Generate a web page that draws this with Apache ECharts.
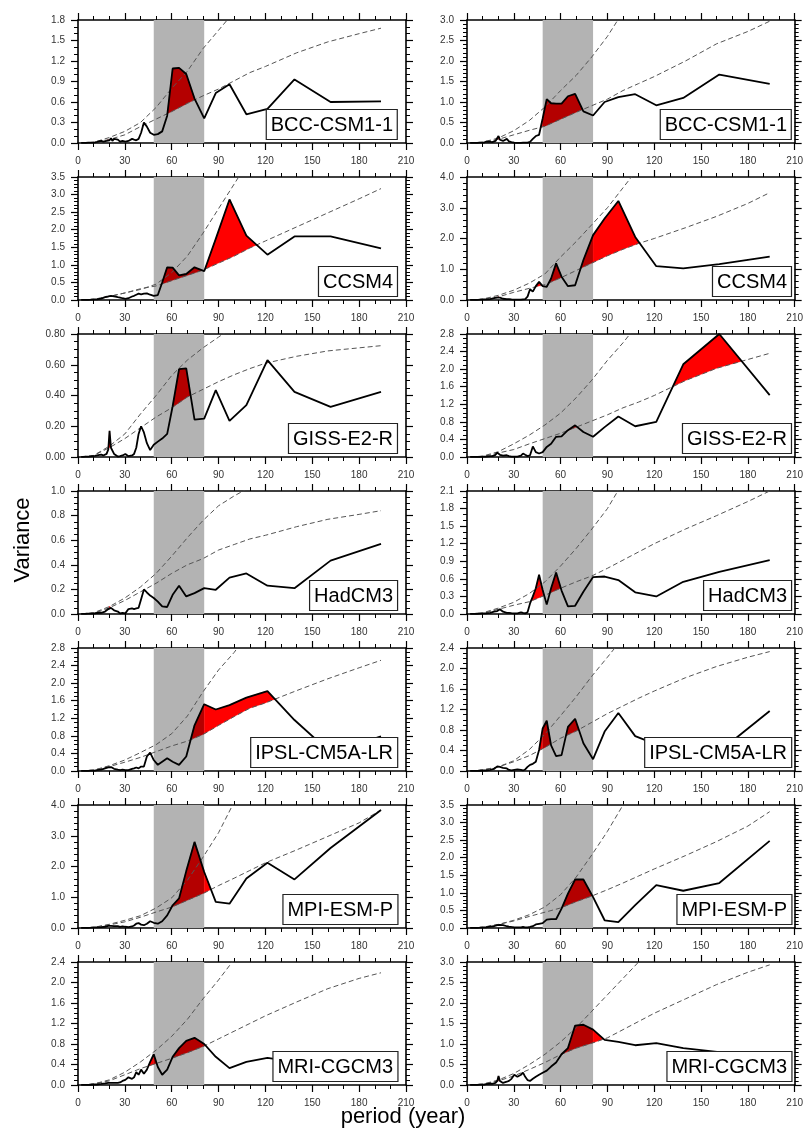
<!DOCTYPE html>
<html>
<head>
<meta charset="utf-8">
<script src="https://cdn.jsdelivr.net/npm/echarts@6/dist/echarts.min.js"></script>
<style>
  html, body { margin: 0; padding: 0; background: #fff; }
  #chart { width: 806px; height: 1138px; }
</style>
</head>
<body>
<div id="chart"></div>
<script>
// spectral periods (years) of the black curves
const periods = [194, 161.7, 138.6, 121.3, 107.8, 97, 88.2, 80.8, 74.6, 69.3, 64.7, 60.6, 57.1, 53.9, 51.1, 48.5,
  46.2, 44.1, 42.2, 40.4, 38.8, 37.3, 35.9, 34.6, 32.3, 30.3, 28.5, 26.9, 25.5, 24.3, 23.1, 22, 21.1, 20.2, 19.4,
  18.3, 17.3, 16.2, 14.9, 13.9, 12.1, 10.8, 9.7, 8.1, 6.5, 4.9, 3.2, 2];
// periods of the dashed reference curves
const dashPeriods = [2, 10, 20, 30, 40, 50, 60, 70, 80, 90, 100, 110, 120, 140, 160, 180, 194];

const bandStart = 48.5;
const bandEnd = 80.8;

const models = ['BCC-CSM1-1', 'CCSM4', 'GISS-E2-R', 'HadCM3', 'IPSL-CM5A-LR', 'MPI-ESM-P', 'MRI-CGCM3'];
const yMaxL = [1.8, 3.5, 0.8, 1.0, 2.8, 4.0, 2.4];
const yStepL = [0.3, 0.5, 0.2, 0.2, 0.4, 1.0, 0.4];
const yMaxR = [3.0, 4.0, 2.8, 2.1, 2.4, 3.5, 3.0];
const yStepR = [0.5, 1.0, 0.4, 0.3, 0.4, 0.5, 0.5];
const yDecL = [1, 1, 2, 1, 1, 1, 1];
const yDecR = [1, 1, 1, 1, 1, 1, 1];

// ---- left column ----
const bccL = [0.61, 0.60, 0.93, 0.50, 0.42, 0.86, 0.73, 0.36, 0.65, 1.01, 1.10, 1.09, 0.40, 0.17, 0.13, 0.12,
  0.15, 0.24, 0.30, 0.15, 0.06, 0.04, 0.05, 0.06, 0.03, 0.02, 0.03, 0.02, 0.05, 0.04, 0.06, 0.03, 0.07, 0.04, 0.06,
  0.03, 0.04, 0.02, 0.03, 0.02, 0.015, 0.01, 0.01, 0.005, 0.005, 0.003, 0.002, 0.001];
const bccLLo = [0, 0.01, 0.05, 0.12, 0.24, 0.35, 0.46, 0.58, 0.69, 0.79, 0.91, 1.03, 1.12, 1.32, 1.48, 1.60, 1.68];
const bccLHi = [0, 0.01, 0.08, 0.17, 0.30, 0.52, 0.80, 1.05, 1.38, 1.65, 1.92, 2.2];

const ccsmL = [1.47, 1.81, 1.81, 1.29, 1.83, 2.86, 1.74, 0.82, 0.93, 0.74, 0.70, 0.92, 0.93, 0.50, 0.14, 0.12,
  0.15, 0.19, 0.18, 0.16, 0.18, 0.15, 0.12, 0.10, 0.05, 0.03, 0.05, 0.07, 0.08, 0.06, 0.10, 0.08, 0.12, 0.07, 0.10,
  0.06, 0.08, 0.04, 0.04, 0.03, 0.02, 0.02, 0.01, 0.01, 0.005, 0.005, 0.003, 0.001];
const ccsmLLo = [0, 0.02, 0.1, 0.2, 0.32, 0.4, 0.55, 0.7, 0.85, 1.05, 1.25, 1.48, 1.68, 2.08, 2.48, 2.88, 3.17];
const ccsmLHi = [0, 0.02, 0.1, 0.2, 0.3, 0.45, 0.78, 1.25, 1.9, 2.6, 3.3, 4.0];

const gissL = [0.424, 0.326, 0.424, 0.63, 0.337, 0.235, 0.435, 0.25, 0.243, 0.576, 0.572, 0.33, 0.15, 0.12, 0.10, 0.08,
  0.045, 0.09, 0.16, 0.20, 0.15, 0.06, 0.02, 0.01, 0.005, 0.02, 0.01, 0.005, 0.003, 0.01, 0.02, 0.03, 0.06, 0.17, 0.05,
  0.02, 0.03, 0.01, 0.015, 0.01, 0.01, 0.008, 0.006, 0.004, 0.003, 0.002, 0.001, 0.001];
const gissLLo = [0, 0.01, 0.06, 0.12, 0.19, 0.26, 0.32, 0.39, 0.44, 0.49, 0.535, 0.575, 0.61, 0.655, 0.69, 0.71, 0.724];
const gissLHi = [0, 0.01, 0.07, 0.15, 0.28, 0.40, 0.53, 0.63, 0.71, 0.78, 0.85];

const hadL = [0.57, 0.434, 0.21, 0.23, 0.33, 0.296, 0.197, 0.21, 0.17, 0.143, 0.23, 0.156, 0.057, 0.062, 0.10, 0.13,
  0.15, 0.175, 0.20, 0.12, 0.05, 0.045, 0.04, 0.045, 0.04, 0.005, 0.01, 0.005, 0.02, 0.01, 0.03, 0.02, 0.05, 0.065, 0.04,
  0.03, 0.02, 0.025, 0.01, 0.012, 0.008, 0.006, 0.005, 0.004, 0.003, 0.002, 0.001, 0.001];
const hadLLo = [0, 0.005, 0.05, 0.11, 0.18, 0.25, 0.33, 0.40, 0.45, 0.52, 0.565, 0.61, 0.64, 0.71, 0.77, 0.81, 0.84];
const hadLHi = [0, 0.01, 0.06, 0.13, 0.22, 0.33, 0.47, 0.62, 0.76, 0.88, 0.96, 1.03];

const ipslL = [0.79, 0.42, 1.16, 1.82, 1.67, 1.50, 1.40, 1.52, 1.04, 0.33, 0.14, 0.21, 0.29, 0.21, 0.14, 0.25,
  0.42, 0.33, 0.10, 0.10, 0.06, 0.08, 0.06, 0.05, 0.02, 0.02, 0.03, 0.02, 0.03, 0.04, 0.05, 0.08, 0.09, 0.07, 0.08,
  0.05, 0.06, 0.04, 0.03, 0.03, 0.02, 0.01, 0.01, 0.008, 0.005, 0.003, 0.002, 0.001];
const ipslLLo = [0, 0.02, 0.1, 0.2, 0.31, 0.44, 0.57, 0.68, 0.83, 1.04, 1.24, 1.43, 1.55, 1.83, 2.1, 2.35, 2.52];
const ipslLHi = [0, 0.02, 0.12, 0.25, 0.42, 0.6, 0.85, 1.25, 1.8, 2.3, 2.7, 3.2];

const mpiL = [3.84, 2.60, 1.58, 2.12, 1.61, 0.79, 0.85, 1.82, 2.80, 1.85, 0.96, 0.74, 0.41, 0.22, 0.14, 0.17,
  0.22, 0.14, 0.09, 0.11, 0.16, 0.14, 0.08, 0.05, 0.03, 0.04, 0.05, 0.04, 0.06, 0.05, 0.06, 0.05, 0.07, 0.06, 0.07,
  0.05, 0.04, 0.04, 0.03, 0.03, 0.02, 0.02, 0.01, 0.01, 0.005, 0.004, 0.002, 0.001];
const mpiLLo = [0, 0.02, 0.1, 0.2, 0.35, 0.52, 0.68, 0.9, 1.12, 1.38, 1.62, 1.87, 2.12, 2.54, 2.98, 3.42, 3.84];
const mpiLHi = [0, 0.02, 0.12, 0.25, 0.4, 0.65, 0.98, 1.55, 2.3, 3.1, 4.1];

const mriL = [0.55, 0.60, 0.45, 0.53, 0.45, 0.33, 0.55, 0.80, 0.92, 0.86, 0.72, 0.55, 0.30, 0.20, 0.35, 0.60,
  0.45, 0.30, 0.22, 0.30, 0.20, 0.25, 0.15, 0.12, 0.15, 0.10, 0.08, 0.05, 0.04, 0.05, 0.04, 0.03, 0.04, 0.05, 0.04,
  0.03, 0.03, 0.02, 0.02, 0.02, 0.01, 0.01, 0.01, 0.005, 0.004, 0.003, 0.002, 0.001];
const mriLLo = [0, 0.02, 0.08, 0.2, 0.32, 0.42, 0.52, 0.63, 0.75, 0.9, 1.05, 1.2, 1.35, 1.62, 1.88, 2.08, 2.19];
const mriLHi = [0, 0.02, 0.1, 0.25, 0.45, 0.68, 0.95, 1.28, 1.68, 2.05, 2.45];

// ---- right column ----
const bccR = [1.44, 1.67, 1.10, 0.92, 1.19, 1.12, 1.00, 0.67, 0.77, 1.20, 1.14, 0.96, 0.96, 0.97, 1.07, 0.60,
  0.20, 0.17, 0.10, 0.03, 0.01, 0.01, 0.01, 0.005, 0.005, 0.01, 0.02, 0.04, 0.10, 0.08, 0.05, 0.04, 0.08, 0.17, 0.12,
  0.05, 0.03, 0.02, 0.03, 0.02, 0.03, 0.01, 0.01, 0.01, 0.005, 0.005, 0.002, 0.001];
const bccRLo = [0, 0.01, 0.09, 0.2, 0.31, 0.41, 0.58, 0.75, 0.91, 1.07, 1.28, 1.45, 1.62, 2.0, 2.42, 2.72, 2.97];
const bccRHi = [0, 0.02, 0.12, 0.3, 0.55, 0.88, 1.28, 1.65, 2.1, 2.6, 3.2];

const ccsmR = [1.41, 1.17, 1.03, 1.10, 2.05, 3.22, 2.65, 2.11, 1.30, 0.48, 0.45, 0.76, 1.19, 0.70, 0.43, 0.45,
  0.59, 0.45, 0.27, 0.35, 0.11, 0.03, 0.02, 0.01, 0.01, 0.01, 0.02, 0.03, 0.03, 0.04, 0.04, 0.05, 0.08, 0.12, 0.08,
  0.05, 0.06, 0.04, 0.03, 0.05, 0.02, 0.02, 0.01, 0.01, 0.005, 0.005, 0.003, 0.001];
const ccsmRLo = [0, 0.02, 0.1, 0.25, 0.38, 0.5, 0.72, 0.96, 1.2, 1.44, 1.65, 1.84, 2.0, 2.35, 2.72, 3.14, 3.49];
const ccsmRHi = [0, 0.03, 0.15, 0.32, 0.55, 0.85, 1.4, 1.9, 2.45, 3.0, 3.65, 4.3];

const gissR = [1.41, 2.80, 2.11, 0.80, 0.70, 0.92, 0.68, 0.46, 0.57, 0.72, 0.61, 0.47, 0.46, 0.30, 0.23, 0.11,
  0.08, 0.11, 0.24, 0.04, 0.02, 0.05, 0.08, 0.03, 0.01, 0.01, 0.01, 0.02, 0.04, 0.06, 0.03, 0.04, 0.05, 0.08, 0.10,
  0.05, 0.03, 0.02, 0.02, 0.01, 0.01, 0.01, 0.005, 0.005, 0.003, 0.002, 0.001, 0.001];
const gissRLo = [0, 0.01, 0.09, 0.17, 0.3, 0.42, 0.54, 0.68, 0.82, 0.96, 1.12, 1.25, 1.4, 1.74, 2.02, 2.22, 2.36];
const gissRHi = [0, 0.02, 0.12, 0.3, 0.5, 0.73, 1.0, 1.35, 1.75, 2.2, 2.6, 3.05];

const hadR = [0.92, 0.72, 0.55, 0.30, 0.37, 0.58, 0.64, 0.63, 0.38, 0.14, 0.13, 0.40, 0.71, 0.44, 0.16, 0.41,
  0.67, 0.44, 0.30, 0.18, 0.03, 0.01, 0.02, 0.03, 0.01, 0.01, 0.015, 0.02, 0.02, 0.03, 0.04, 0.06, 0.08, 0.07, 0.05,
  0.06, 0.04, 0.03, 0.02, 0.02, 0.01, 0.01, 0.008, 0.005, 0.004, 0.003, 0.002, 0.001];
const hadRLo = [0, 0.01, 0.08, 0.15, 0.21, 0.32, 0.44, 0.55, 0.65, 0.78, 0.92, 1.06, 1.2, 1.45, 1.68, 1.92, 2.10];
const hadRHi = [0, 0.02, 0.1, 0.2, 0.35, 0.55, 0.82, 1.12, 1.45, 1.8, 2.25];

const ipslR = [1.17, 0.38, 0.45, 0.52, 0.68, 1.13, 0.77, 0.23, 0.54, 1.02, 0.86, 0.31, 0.29, 0.50, 0.98, 0.83,
  0.41, 0.18, 0.14, 0.12, 0.08, 0.03, 0.01, 0.02, 0.03, 0.02, 0.01, 0.02, 0.05, 0.07, 0.06, 0.07, 0.08, 0.06, 0.09,
  0.06, 0.04, 0.03, 0.02, 0.02, 0.01, 0.01, 0.008, 0.005, 0.004, 0.003, 0.002, 0.001];
const ipslRLo = [0, 0.02, 0.08, 0.18, 0.3, 0.46, 0.64, 0.78, 0.95, 1.12, 1.27, 1.42, 1.56, 1.82, 2.04, 2.22, 2.33];
const ipslRHi = [0, 0.02, 0.08, 0.2, 0.42, 0.72, 1.08, 1.45, 1.85, 2.22, 2.6];

const mpiR = [2.48, 1.28, 1.06, 1.22, 0.65, 0.17, 0.22, 0.88, 1.38, 1.38, 0.98, 0.55, 0.25, 0.25, 0.24, 0.14,
  0.12, 0.10, 0.05, 0.03, 0.02, 0.02, 0.03, 0.02, 0.02, 0.02, 0.03, 0.04, 0.05, 0.06, 0.08, 0.06, 0.09, 0.10, 0.08,
  0.06, 0.05, 0.04, 0.04, 0.03, 0.02, 0.02, 0.01, 0.01, 0.005, 0.004, 0.002, 0.001];
const mpiRLo = [0, 0.02, 0.1, 0.2, 0.33, 0.45, 0.57, 0.75, 0.91, 1.09, 1.28, 1.48, 1.68, 2.06, 2.46, 2.9, 3.31];
const mpiRHi = [0, 0.02, 0.1, 0.22, 0.38, 0.6, 0.95, 1.45, 2.08, 2.75, 3.5, 4.3];

const mriR = [0.70, 0.80, 0.90, 1.02, 0.97, 1.05, 1.10, 1.35, 1.47, 1.45, 0.90, 0.75, 0.55, 0.45, 0.35, 0.30,
  0.25, 0.20, 0.15, 0.10, 0.12, 0.20, 0.30, 0.25, 0.20, 0.25, 0.15, 0.10, 0.08, 0.06, 0.05, 0.06, 0.10, 0.22, 0.10,
  0.05, 0.04, 0.03, 0.03, 0.02, 0.02, 0.01, 0.01, 0.008, 0.005, 0.003, 0.002, 0.001];
const mriRLo = [0, 0.02, 0.1, 0.22, 0.38, 0.55, 0.74, 0.9, 1.02, 1.15, 1.35, 1.55, 1.75, 2.1, 2.45, 2.75, 2.93];
const mriRHi = [0, 0.02, 0.12, 0.28, 0.5, 0.75, 1.05, 1.4, 1.8, 2.2, 2.6, 3.0, 3.4];

const specL = [bccL, ccsmL, gissL, hadL, ipslL, mpiL, mriL];
const loL = [bccLLo, ccsmLLo, gissLLo, hadLLo, ipslLLo, mpiLLo, mriLLo];
const hiL = [bccLHi, ccsmLHi, gissLHi, hadLHi, ipslLHi, mpiLHi, mriLHi];
const specR = [bccR, ccsmR, gissR, hadR, ipslR, mpiR, mriR];
const loR = [bccRLo, ccsmRLo, gissRLo, hadRLo, ipslRLo, mpiRLo, mriRLo];
const hiR = [bccRHi, ccsmRHi, gissRHi, hadRHi, ipslRHi, mpiRHi, mriRHi];

// ---- layout ----
const FONT = '"Liberation Sans", Arial, Helvetica, sans-serif';
const rowTops = [20, 177, 334, 491, 648, 805, 962];
const plotH = 123;
const colLeft = [78, 467];
const plotW = [328, 329];

const pairs = (xs, ys) => ys.map((v, i) => [xs[i], v]);

function interp(pts, x) {
  for (let i = 0; i < pts.length - 1; i++) {
    const a = pts[i], b = pts[i + 1];
    if (x >= a[0] && x <= b[0]) return a[1] + (b[1] - a[1]) * (x - a[0]) / (b[0] - a[0]);
  }
  return null;
}

// regions where the spectrum lies above the lower dashed curve
function exceedPolygons(spec, lo) {
  const s = spec.slice().sort((a, b) => a[0] - b[0]);
  const l = lo.slice().sort((a, b) => a[0] - b[0]);
  const x0 = Math.max(s[0][0], l[0][0]);
  const x1 = Math.min(s[s.length - 1][0], l[l.length - 1][0]);
  const xs = Array.from(new Set(s.map(p => p[0]).concat(l.map(p => p[0]))))
    .filter(x => x >= x0 && x <= x1).sort((a, b) => a - b);
  const polys = [];
  let top = null, bot = null, prev = null;
  xs.forEach(x => {
    const ys = interp(s, x), yl = interp(l, x), d = ys - yl;
    if (prev && (prev.d > 0) !== (d > 0)) {
      const t = prev.d / (prev.d - d);
      const xc = prev.x + (x - prev.x) * t;
      const yc = interp(s, xc);
      if (d > 0) {
        top = [[xc, yc]]; bot = [[xc, yc]];
      } else if (top) {
        top.push([xc, yc]); bot.push([xc, yc]);
        polys.push(top.concat(bot.reverse()));
        top = bot = null;
      }
    }
    if (d > 0) {
      if (!top) { top = []; bot = []; }
      top.push([x, ys]); bot.push([x, yl]);
    }
    prev = { x, d };
  });
  if (top) polys.push(top.concat(bot.reverse()));
  return polys;
}

// cut a polygon to the strip xmin <= x <= xmax
function clipByX(poly, xmin, xmax) {
  const cross = (a, b, xb) => [xb, a[1] + (b[1] - a[1]) * (xb - a[0]) / (b[0] - a[0])];
  let out = poly;
  [[p => p[0] >= xmin, xmin], [p => p[0] <= xmax, xmax]].forEach(([inside, xb]) => {
    const inp = out;
    out = [];
    for (let i = 0; i < inp.length; i++) {
      const cur = inp[i], prev = inp[(i + inp.length - 1) % inp.length];
      if (inside(cur)) {
        if (!inside(prev)) out.push(cross(prev, cur, xb));
        out.push(cur);
      } else if (inside(prev)) {
        out.push(cross(prev, cur, xb));
      }
    }
  });
  return out;
}

const panels = [];
for (let r = 0; r < models.length; r++) {
  panels.push({ name: models[r], col: 0, row: r, spec: specL[r], lo: loL[r], hi: hiL[r], max: yMaxL[r], step: yStepL[r], dec: yDecL[r] });
  panels.push({ name: models[r], col: 1, row: r, spec: specR[r], lo: loR[r], hi: hiR[r], max: yMaxR[r], step: yStepR[r], dec: yDecR[r] });
}

const grid = [], xAxis = [], yAxis = [], series = [], title = [];
const tickStyle = { color: '#000', width: 1.2 };

panels.forEach((p, g) => {
  grid.push({ left: colLeft[p.col], top: rowTops[p.row], width: plotW[p.col], height: plotH });

  ['bottom', 'top'].forEach(pos => {
    xAxis.push({
      gridIndex: g, type: 'value', min: 0, max: 210, interval: 30, position: pos,
      axisLine: { show: true, onZero: false, lineStyle: { color: '#000', width: 1.6 } },
      axisTick: { show: true, length: 7, lineStyle: tickStyle },
      minorTick: { show: true, splitNumber: 3, length: 4, lineStyle: { color: '#000', width: 1 } },
      axisLabel: { show: pos === 'bottom', fontSize: 10, color: '#333', margin: 13, fontFamily: FONT },
      splitLine: { show: false }, minorSplitLine: { show: false },
    });
  });

  const minorY = Math.round(p.step * 10 % 3 === 0 ? 3 : (p.step === 0.2 || p.step === 0.4 ? 4 : 5));
  ['left', 'right'].forEach(pos => {
    yAxis.push({
      gridIndex: g, type: 'value', min: 0, max: p.max, interval: p.step, position: pos,
      axisLine: { show: true, onZero: false, lineStyle: { color: '#000', width: 1.6 } },
      axisTick: { show: true, length: 7, lineStyle: tickStyle },
      minorTick: { show: true, splitNumber: minorY, length: 4, lineStyle: { color: '#000', width: 1 } },
      axisLabel: {
        show: pos === 'left', fontSize: 10, color: '#333', margin: 13, fontFamily: FONT,
        formatter: v => v.toFixed(p.dec),
      },
      splitLine: { show: false }, minorSplitLine: { show: false },
    });
  });

  const specPts = pairs(periods, p.spec);
  const loPts = pairs(dashPeriods, p.lo);
  const hiPts = pairs(dashPeriods, p.hi);
  const polys = exceedPolygons(specPts, loPts);
  // pieces of the fill: outside the band bright red, inside it dark red
  const pieces = [];
  polys.forEach(poly => {
    [[-1e9, bandStart, '#ff0000'], [bandStart, bandEnd, '#b40000'], [bandEnd, 1e9, '#ff0000']].forEach(([a, b, c]) => {
      const part = clipByX(poly, a, b);
      if (part.length > 2) pieces.push({ pts: part, color: c });
    });
  });
  const ax = { xAxisIndex: 2 * g, yAxisIndex: 2 * g };

  // gray band
  series.push(Object.assign({
    type: 'custom', data: [[bandStart, bandEnd]], z: 1, silent: true, clip: true,
    renderItem: (params, api) => {
      const a = api.coord([api.value(0), p.max]);
      const b = api.coord([api.value(1), 0]);
      return {
        type: 'rect',
        shape: { x: a[0], y: a[1], width: b[0] - a[0], height: b[1] - a[1] },
        style: { fill: '#b3b3b3' },
      };
    },
  }, ax));

  // red fill
  series.push(Object.assign({
    type: 'custom', data: [[0, 0]], z: 2, silent: true, clip: true,
    renderItem: (params, api) => ({
      type: 'group',
      children: pieces.map(pc => ({
        type: 'polygon',
        shape: { points: pc.pts.map(pt => api.coord(pt)) },
        style: { fill: pc.color, stroke: pc.color, lineWidth: 0.3 },
      })),
    }),
  }, ax));

  [loPts, hiPts].forEach(pts => {
    series.push(Object.assign({
      type: 'line', data: pts, symbol: 'none', z: 3, silent: true, clip: true,
      lineStyle: { color: '#555', width: 1, type: [5, 3] },
    }, ax));
  });

  series.push(Object.assign({
    type: 'line', data: specPts, symbol: 'none', z: 4, silent: true, clip: true,
    lineStyle: { color: '#000', width: 1.8 },
  }, ax));

  title.push({
    text: p.name,
    right: p.col === 0 ? 408 : 14,
    top: rowTops[p.row] + plotH - 34,
    padding: [4, 5, 3, 5],
    borderColor: '#222', borderWidth: 1.2, backgroundColor: '#fff',
    textStyle: { fontSize: 20, fontWeight: 'normal', color: '#000', fontFamily: FONT, lineHeight: 24 },
    z: 10,
  });
});

const chart = echarts.init(document.getElementById('chart'));
chart.setOption({
  backgroundColor: '#fff',
  animation: false,
  title,
  grid,
  xAxis,
  yAxis,
  series,
  graphic: [
    {
      type: 'text', x: 23, y: 540, rotation: Math.PI / 2,
      style: { text: 'Variance', font: '22px ' + FONT, fill: '#000', align: 'center', verticalAlign: 'middle' },
    },
    {
      type: 'text', x: 403, y: 1117,
      style: { text: 'period (year)', font: '22px ' + FONT, fill: '#000', align: 'center', verticalAlign: 'middle' },
    },
  ],
});
</script>
</body>
</html>
